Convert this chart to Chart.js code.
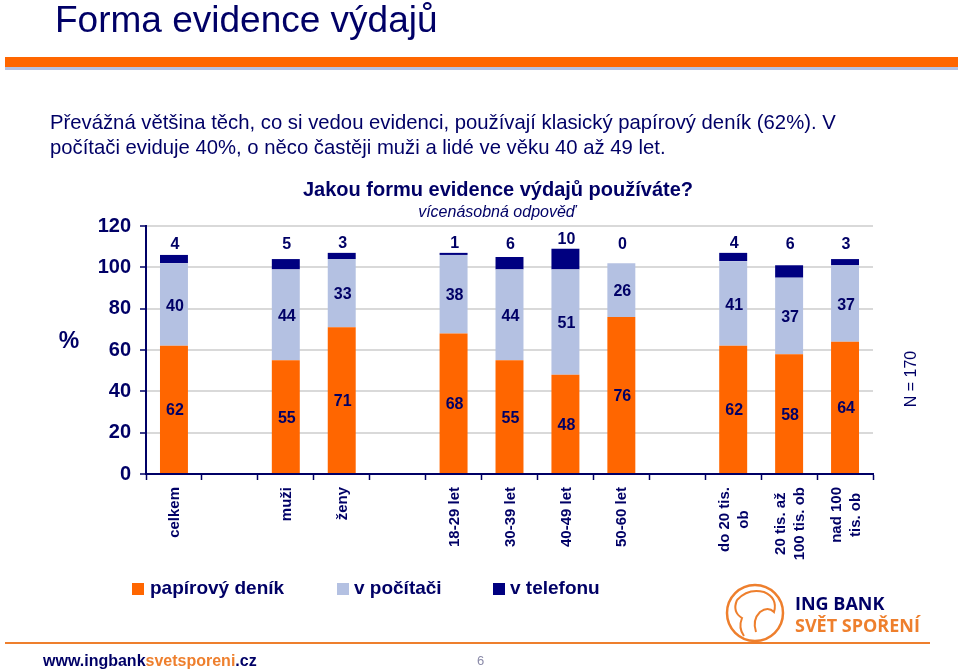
<!DOCTYPE html>
<html><head><meta charset="utf-8">
<script src="https://cdn.jsdelivr.net/npm/chart.js@4/dist/chart.umd.min.js"></script>
<style>
html,body{margin:0;padding:0;background:#fff;}
body{width:960px;height:671px;overflow:hidden;}
canvas{display:block;}
</style></head><body>
<canvas id="c" width="960" height="671"></canvas>
<script>
// ---- data ----
const categories = ['celkem', '', 'muži', 'ženy', '', '18-29 let', '30-39 let', '40-49 let', '50-60 let', '', ['do 20 tis.', 'ob'], ['20 tis. až', '100 tis. ob'], ['nad 100', 'tis. ob']];
const paperValues    = [62, null, 55, 71, null, 68, 55, 48, 76, null, 62, 58, 64];
const computerValues = [40, null, 44, 33, null, 38, 44, 51, 26, null, 41, 37, 37];
const phoneValues    = [4,  null, 5,  3,  null, 1,  6,  10, 0,  null, 4,  6,  3];
const seriesNames = ['papírový deník', 'v počítači', 'v telefonu'];
const yTickValues = [0, 20, 40, 60, 80, 100, 120];

const pageTitle = 'Forma evidence výdajů';
const introLines = ['Převážná většina těch, co si vedou evidenci, používají klasický papírový deník (62%). V',
                    'počítači eviduje 40%, o něco častěji muži a lidé ve věku 40 až 49 let.'];
const chartTitle = 'Jakou formu evidence výdajů používáte?';
const chartSubtitle = 'vícenásobná odpověď';
const axisUnit = '%';
const sampleNote = 'N = 170';

// ---- styles ----
const FONT = '"Liberation Sans", Arial, sans-serif';
const NAVY = '#000066';
const ORANGE = '#FF6600';
const LIGHT = '#B4C1E2';
const DARK = '#000080';

const decor = {
  id: 'decor',
  afterDraw(chart) {
    const ctx = chart.ctx;
    ctx.save();
    // header bands
    ctx.fillStyle = ORANGE; ctx.fillRect(5, 57, 953, 10);
    ctx.fillStyle = LIGHT; ctx.fillRect(5, 67, 953, 3);
    ctx.fillStyle = NAVY;
    ctx.textAlign = 'left'; ctx.textBaseline = 'alphabetic';
    ctx.font = '37px ' + FONT; ctx.fillText(pageTitle, 55, 32);
    ctx.font = '20.3px ' + FONT;
    ctx.fillText(introLines[0], 50, 129);
    ctx.fillText(introLines[1], 50, 154);
    ctx.textAlign = 'center';
    ctx.font = 'bold 20px ' + FONT; ctx.fillText(chartTitle, 498, 196);
    ctx.font = 'italic 16px ' + FONT; ctx.fillText(chartSubtitle, 497, 217);
    ctx.font = 'bold 23px ' + FONT; ctx.fillText(axisUnit, 69, 348);
    // N note
    ctx.save();
    ctx.translate(912, 379); ctx.rotate(-Math.PI / 2);
    ctx.font = '16px ' + FONT; ctx.textBaseline = 'middle';
    ctx.fillText(sampleNote, 0, 0);
    ctx.restore();

    // x category labels (rotated, centered lines)
    const xs = chart.scales.x;
    ctx.font = 'bold 15px ' + FONT;
    categories.forEach((lab, i) => {
      const lines = Array.isArray(lab) ? lab : [lab];
      if (!lines.join('')) return;
      const maxW = Math.max(...lines.map(l => ctx.measureText(l).width));
      const cx = xs.getPixelForTick(i) + 1;
      ctx.save();
      ctx.translate(cx, 487 + maxW / 2);
      ctx.rotate(-Math.PI / 2);
      ctx.textAlign = 'center'; ctx.textBaseline = 'middle';
      lines.forEach((l, k) => {
        ctx.fillText(l, 0, (k - (lines.length - 1) / 2) * 19);
      });
      ctx.restore();
    });

    // legend
    const legendPos = [[132, 150], [337, 354], [493, 510]];
    ctx.font = 'bold 19px ' + FONT; ctx.textAlign = 'left'; ctx.textBaseline = 'alphabetic';
    chart.data.datasets.forEach((ds, d) => {
      const [sx, tx] = legendPos[d];
      ctx.fillStyle = ds.backgroundColor; ctx.fillRect(sx, 583, 12, 12);
      ctx.fillStyle = NAVY; ctx.fillText(ds.label, tx, 594);
    });

    // footer
    ctx.fillStyle = '#EE7F2D'; ctx.fillRect(5, 642, 925, 2);
    ctx.font = 'bold 16px ' + FONT;
    let x = 43;
    [['www.ingbank', NAVY], ['svetsporeni', '#EE7F2D'], ['.cz', NAVY]].forEach(([t, c]) => {
      ctx.fillStyle = c; ctx.fillText(t, x, 666); x += ctx.measureText(t).width;
    });
    ctx.fillStyle = '#8A8AA8'; ctx.font = '13px ' + FONT; ctx.fillText('6', 477, 665);

    // logo
    ctx.strokeStyle = '#EE7F2D'; ctx.lineWidth = 2.5;
    ctx.beginPath(); ctx.arc(755, 613, 28, 0, Math.PI * 2); ctx.stroke();
    ctx.lineWidth = 2;
    ctx.beginPath();
    ctx.moveTo(737, 600); ctx.quadraticCurveTo(748, 588, 764, 592);
    ctx.quadraticCurveTo(778, 598, 774, 612);
    ctx.quadraticCurveTo(768, 606, 760, 612);
    ctx.quadraticCurveTo(752, 620, 756, 632);
    ctx.moveTo(737, 600); ctx.quadraticCurveTo(732, 612, 742, 618);
    ctx.quadraticCurveTo(738, 628, 744, 636);
    ctx.stroke();
    ctx.fillStyle = NAVY; ctx.font = 'bold 18px "Open Sans", ' + FONT;
    ctx.fillText('ING BANK', 795, 610, 95);
    ctx.fillStyle = '#EE7F2D';
    ctx.fillText('SVĚT SPOŘENÍ', 795, 632, 137);
    ctx.restore();
  }
};

const valueLabels = {
  id: 'valueLabels',
  afterDatasetsDraw(chart) {
    const ctx = chart.ctx;
    const ys = chart.scales.y;
    ctx.save();
    ctx.font = 'bold 16px ' + FONT;
    ctx.fillStyle = NAVY;
    ctx.textAlign = 'center'; ctx.textBaseline = 'alphabetic';
    chart.data.datasets.forEach((ds, d) => {
      const meta = chart.getDatasetMeta(d);
      meta.data.forEach((bar, i) => {
        const v = ds.data[i];
        if (v == null) return;
        const cy = d < 2 ? (bar.y + bar.base) / 2 : Math.min(ys.getPixelForValue(112), bar.y - 11);
        ctx.fillText(String(v), bar.x + 1, cy + 6);
      });
    });
    ctx.restore();
  }
};

new Chart(document.getElementById('c'), {
  type: 'bar',
  data: {
    labels: categories,
    datasets: [
      { label: seriesNames[0], data: paperValues, backgroundColor: ORANGE },
      { label: seriesNames[1], data: computerValues, backgroundColor: LIGHT },
      { label: seriesNames[2], data: phoneValues, backgroundColor: DARK }
    ]
  },
  options: {
    responsive: false,
    animation: false,
    devicePixelRatio: 1,
    barPercentage: 0.5,
    categoryPercentage: 1,
    layout: { padding: { left: 0, top: 226, right: 87, bottom: 97 } },
    plugins: { legend: { display: false }, tooltip: { enabled: false } },
    scales: {
      x: {
        stacked: true,
        grid: { drawOnChartArea: false, drawTicks: true, tickLength: 6, tickColor: NAVY, tickWidth: 1.5, offset: true },
        border: { color: NAVY, width: 2 },
        ticks: { display: false },
        afterFit(s) { s.height = 100; }
      },
      y: {
        stacked: true, min: 0, max: 120,
        afterBuildTicks(s) { s.ticks = yTickValues.map(v => ({ value: v })); },
        ticks: { color: NAVY, font: { family: FONT, size: 20, weight: 'bold' }, padding: 9 },
        grid: { color: '#D9D9D9', lineWidth: 2, tickLength: 6, tickColor: NAVY, tickWidth: 1.5 },
        border: { color: NAVY, width: 2 },
        afterFit(s) { s.width = 146; }
      }
    }
  },
  plugins: [valueLabels, decor]
});
</script>
</body></html>
